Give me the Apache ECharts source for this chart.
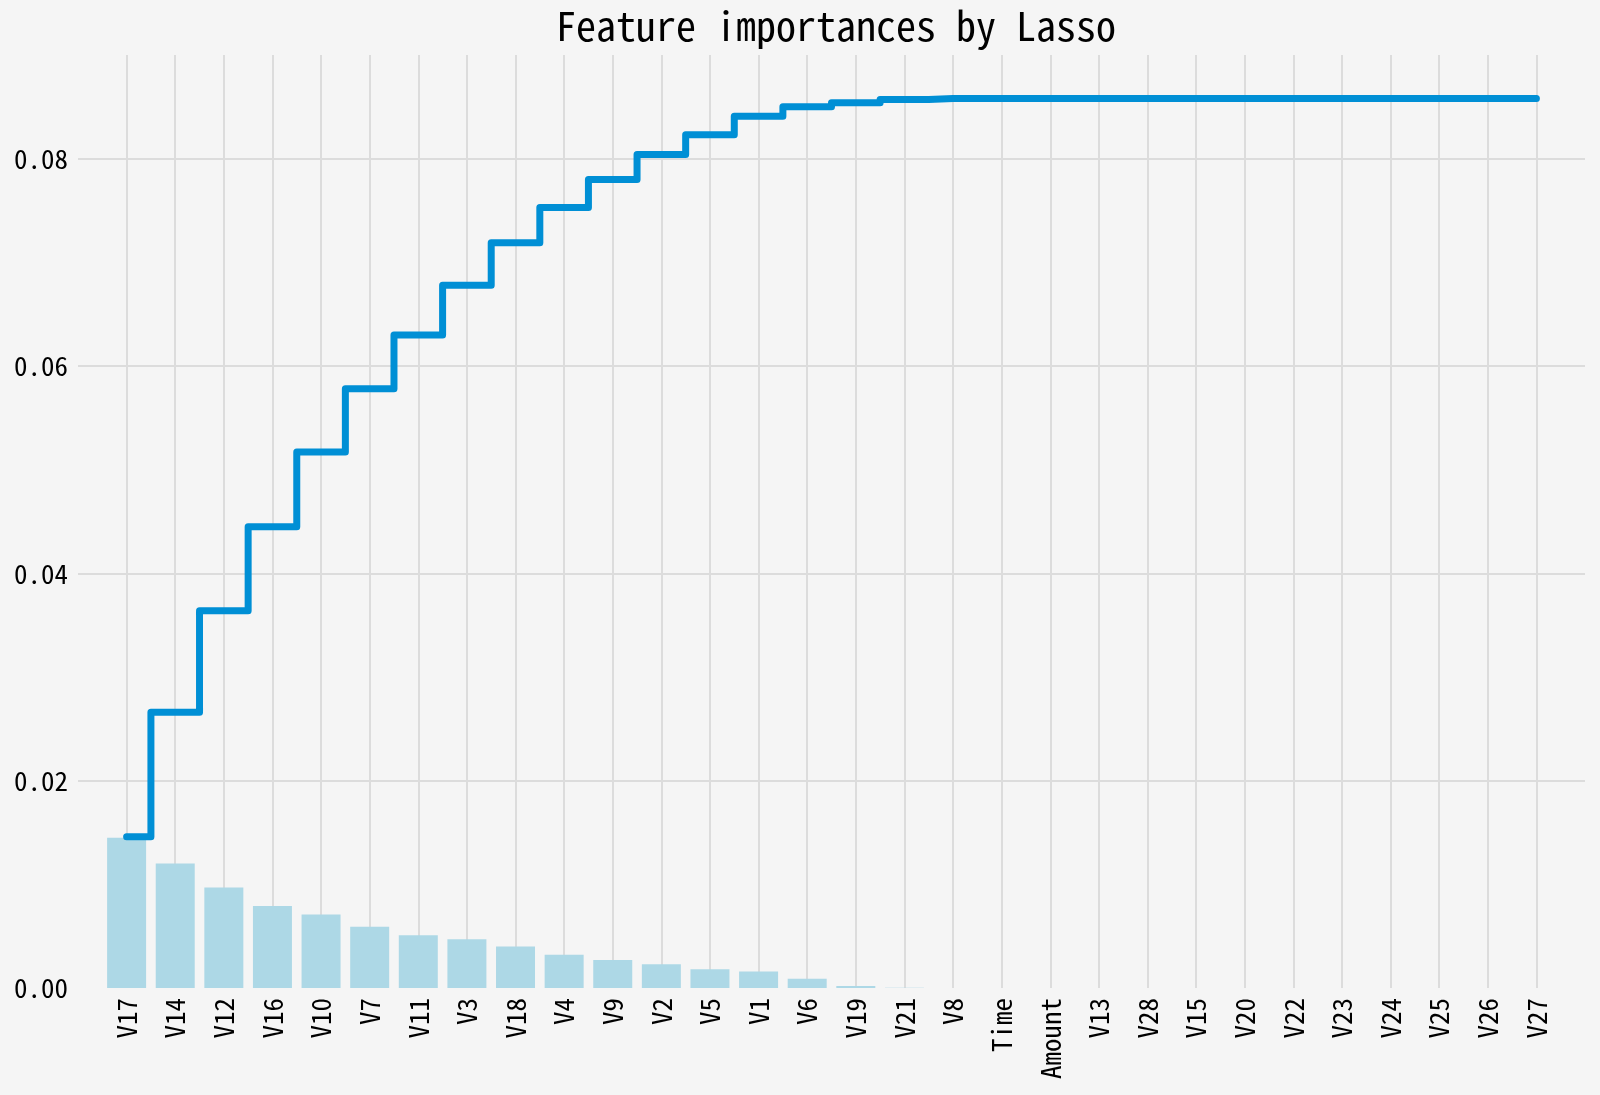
<!DOCTYPE html>
<html>
<head>
<meta charset="utf-8">
<script src="https://cdn.jsdelivr.net/npm/echarts@6/dist/echarts.min.js"></script>
<style>
  html, body { margin: 0; padding: 0; background: #f5f5f5; }
  #chart { width: 1600px; height: 1095px; }
</style>
</head>
<body>
<div id="chart"></div>
<script>
const categories = ['V17','V14','V12','V16','V10','V7','V11','V3','V18','V4','V9','V2','V5','V1','V6','V19','V21','V8','Time','Amount','V13','V28','V15','V20','V22','V23','V24','V25','V26','V27'];
const importance = [0.0145,0.0120,0.0097,0.0079,0.0071,0.0059,0.0051,0.0047,0.0040,0.0032,0.0027,0.0023,0.0018,0.0016,0.0009,0.0002,0.00003,0.00001,0,0,0,0,0,0,0,0,0,0,0,0];
const cumulative = [0.0146,0.0266,0.0364,0.0445,0.0517,0.0578,0.0630,0.0678,0.0719,0.0753,0.0780,0.0804,0.0823,0.0841,0.0850,0.0854,0.0857,0.0858,0.0858,0.0858,0.0858,0.0858,0.0858,0.0858,0.0858,0.0858,0.0858,0.0858,0.0858,0.0858];
const yTicks = [0, 0.02, 0.04, 0.06, 0.08];

const FONT = "'Noto Sans Mono CJK SC', 'Noto Sans CJK SC', 'DejaVu Sans Mono', monospace";
const chart = echarts.init(document.getElementById('chart'), null, { renderer: 'canvas' });
chart.setOption({
  backgroundColor: '#f5f5f5',
  animation: false,
  textStyle: { fontFamily: FONT },
  title: {
    text: 'Feature importances by Lasso',
    left: 831, top: 1, textAlign: 'center',
    textStyle: { fontFamily: FONT, fontSize: 40, fontWeight: 'normal', color: '#000' }
  },
  grid: { left: 78, right: 15, top: 55, bottom: 107, containLabel: false },
  xAxis: {
    type: 'value', min: -1, max: categories.length, interval: 1,
    axisLine: { show: false }, axisTick: { show: false },
    splitLine: { show: true, showMinLine: false, showMaxLine: false, lineStyle: { color: '#dcdcdc', width: 2 } },
    axisLabel: {
      rotate: 90, margin: 10, fontSize: 27, color: '#000', fontFamily: FONT,
      showMinLabel: false, showMaxLabel: false,
      formatter: v => (Number.isInteger(v) && v >= 0 && v < categories.length) ? categories[v] : ''
    }
  },
  yAxis: {
    type: 'value', min: 0, max: 0.09, interval: 0.02,
    axisLine: { show: false }, axisTick: { show: false },
    splitLine: { show: true, showMinLine: false, showMaxLine: false, lineStyle: { color: '#dcdcdc', width: 2 } },
    axisLabel: {
      margin: 10, fontSize: 27, color: '#000', fontFamily: FONT, showMaxLabel: false,
      formatter: v => yTicks.some(t => Math.abs(t - v) < 1e-9) ? v.toFixed(2) : ''
    }
  },
  series: [
    {
      type: 'bar',
      data: importance.map((v, i) => [i, v]),
      barWidth: 39,
      itemStyle: { color: '#add8e6' },
      z: 2
    },
    {
      type: 'line',
      step: 'middle',
      data: cumulative.map((v, i) => [i, v]),
      showSymbol: false,
      symbol: 'none',
      lineStyle: { color: '#008fd5', width: 7, cap: 'round', join: 'round' },
      z: 3
    }
  ]
});
</script>
</body>
</html>
